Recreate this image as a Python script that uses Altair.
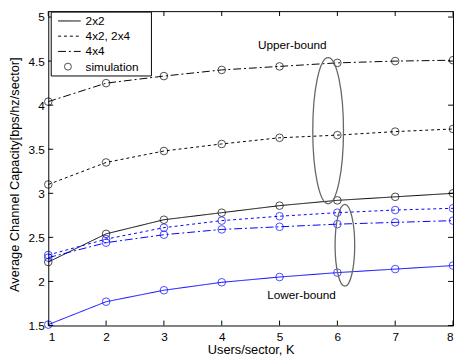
import altair as alt
import pandas as pd

# ---- data ----
K = [1, 2, 3, 4, 5, 6, 7, 8]
upper_2x2 = [2.22, 2.54, 2.70, 2.78, 2.86, 2.92, 2.96, 3.00]
upper_4x2 = [3.10, 3.35, 3.48, 3.56, 3.63, 3.66, 3.70, 3.73]
upper_4x4 = [4.04, 4.25, 4.33, 4.40, 4.44, 4.48, 4.50, 4.51]
lower_2x2 = [1.51, 1.77, 1.90, 1.99, 2.05, 2.10, 2.14, 2.18]
lower_4x2 = [2.30, 2.48, 2.61, 2.69, 2.74, 2.78, 2.81, 2.83]
lower_4x4 = [2.27, 2.44, 2.53, 2.59, 2.62, 2.65, 2.67, 2.69]

configs = ["2x2", "4x2, 2x4", "4x4"]
bounds = ["upper", "lower"]
x_ticks = [1, 2, 3, 4, 5, 6, 7, 8]
y_ticks = [1.5, 2, 2.5, 3, 3.5, 4, 4.5, 5]

# ellipse annotations (data coords) and labels
ell_x = [5.84, 6.13]
ell_y = [3.71, 2.41]
ann_text = ["Upper-bound", "Lower-bound"]
ann_x = [5.22, 5.38]
ann_y = [4.68, 1.85]

FONT = "Liberation Sans"
W, H = 412, 320

rows = []
series = {
    ("upper", "2x2"): upper_2x2, ("upper", "4x2, 2x4"): upper_4x2, ("upper", "4x4"): upper_4x4,
    ("lower", "2x2"): lower_2x2, ("lower", "4x2, 2x4"): lower_4x2, ("lower", "4x4"): lower_4x4,
}
for (b, c), vals in series.items():
    for k, v in zip(K, vals):
        rows.append({"K": k, "v": v, "bound": b, "config": c, "series": b + c})
df = pd.DataFrame(rows)

xs = alt.Scale(domain=[1, 8], nice=False, zero=False)
ys = alt.Scale(domain=[1.5, 5.067], nice=False, zero=False)
x_axis = alt.Axis(values=x_ticks, title="Users/sector, K", grid=False,
                  ticks=False, domain=False, labelFont=FONT, labelFontSize=12, labelColor="#000",
                  labelPadding=6, titleFont=FONT, titleFontSize=13, titleFontWeight="normal",
                  titleColor="#000", titleY=25, titleBaseline="middle")
y_axis = alt.Axis(values=y_ticks, format=".1~f", title="Average Channel Capacity[bps/hz/sector]",
                  grid=False, ticks=False, domain=False, labelFont=FONT, labelFontSize=12, labelColor="#000",
                  labelPadding=4, titleFont=FONT, titleFontSize=13, titleFontWeight="normal", titleColor="#000",
                  titleX=-34, titleY=166, titleAngle=-90, titleBaseline="middle", titleAlign="center")


def X(f):
    return alt.X(f, scale=xs, axis=x_axis, title="Users/sector, K")


def Y(f):
    return alt.Y(f, scale=ys, axis=y_axis, title="Average Channel Capacity[bps/hz/sector]")


color = alt.Color("bound:N", scale=alt.Scale(domain=bounds, range=["#000000", "#0000ff"]), legend=None)
dash = alt.StrokeDash("config:N", scale=alt.Scale(domain=configs, range=[[1, 0], [3, 3], [8, 3, 2, 3]]), legend=None)

lines = alt.Chart(df).mark_line(strokeWidth=1).encode(
    x=X("K:Q"), y=Y("v:Q"), color=color, strokeDash=dash, detail="series:N", order="K:Q")

pts = alt.Chart(df).mark_point(shape="circle", filled=False, size=60, strokeWidth=1).encode(
    x=X("K:Q"), y=Y("v:Q"), color=color)

ell_df = pd.DataFrame({"x": ell_x, "y": ell_y})
ell_up = alt.Chart(ell_df.iloc[[0]]).mark_point(
    shape="M0,-1 A0.21,1 0 1,1 0,1 A0.21,1 0 1,1 0,-1 Z", filled=False, size=22201,
    stroke="#666666", strokeWidth=1.3, opacity=1).encode(x=X("x:Q"), y=Y("y:Q"))
ell_low = alt.Chart(ell_df.iloc[[1]]).mark_point(
    shape="M0,-1 A0.24,1 0 1,1 0,1 A0.24,1 0 1,1 0,-1 Z", filled=False, size=6944,
    stroke="#666666", strokeWidth=1.3, opacity=1).encode(x=X("x:Q"), y=Y("y:Q"))

ann = alt.Chart(pd.DataFrame({"x": ann_x, "y": ann_y, "t": ann_text})).mark_text(
    font=FONT, fontSize=12, color="#000", align="center", baseline="middle").encode(
    x=X("x:Q"), y=Y("y:Q"), text="t:N")

# inward ticks on all four sides
ydf = pd.DataFrame({"v": y_ticks})
xdf = pd.DataFrame({"K": x_ticks})
tick_l = alt.Chart(ydf).mark_rule(color="#000", strokeWidth=1).encode(
    y=Y("v:Q"), x=alt.value(0), x2=alt.value(5))
tick_r = alt.Chart(ydf).mark_rule(color="#000", strokeWidth=1).encode(
    y=Y("v:Q"), x=alt.value(W - 5), x2=alt.value(W))
tick_b = alt.Chart(xdf).mark_rule(color="#000", strokeWidth=1).encode(
    x=X("K:Q"), y=alt.value(H - 5), y2=alt.value(H))
tick_t = alt.Chart(xdf).mark_rule(color="#000", strokeWidth=1).encode(
    x=X("K:Q"), y=alt.value(0), y2=alt.value(5))

# legend (drawn manually, MATLAB style)
dummy = pd.DataFrame({"a": [0]})
leg_box = alt.Chart(dummy).mark_rect(fill="white", stroke="#000", strokeWidth=1).encode(
    x=alt.value(3), x2=alt.value(105), y=alt.value(1), y2=alt.value(66))
leg_ys = [10, 25.5, 41, 56.5]
leg_dash = [[1, 0], [3, 3], [8, 3, 2, 3]]
leg_layers = [leg_box]
for yy, dsh in zip(leg_ys[:3], leg_dash):
    leg_layers.append(alt.Chart(dummy).mark_rule(color="#000", strokeWidth=1, strokeDash=dsh).encode(
        x=alt.value(10), x2=alt.value(33), y=alt.value(yy)))
leg_layers.append(alt.Chart(dummy).mark_point(shape="circle", filled=False, size=50, color="#000", strokeWidth=1).encode(
    x=alt.value(20), y=alt.value(leg_ys[3])))
leg_labels = configs + ["simulation"]
for yy, lab in zip(leg_ys, leg_labels):
    leg_layers.append(alt.Chart(dummy).mark_text(font=FONT, fontSize=12, color="#000", align="left",
                                                 baseline="middle", text=lab).encode(
        x=alt.value(38), y=alt.value(yy)))

chart = alt.layer(lines, pts, ell_up, ell_low, ann, tick_l, tick_r, tick_b, tick_t, *leg_layers).properties(
    width=W, height=H,
    padding={"left": 41, "top": 0, "right": 1, "bottom": 36},
    autosize=alt.AutoSizeParams(type="none"),
    background="white",
).configure_view(stroke="#000", strokeWidth=1)

chart.save("out.html", embed_options={"renderer": "svg", "actions": False})
